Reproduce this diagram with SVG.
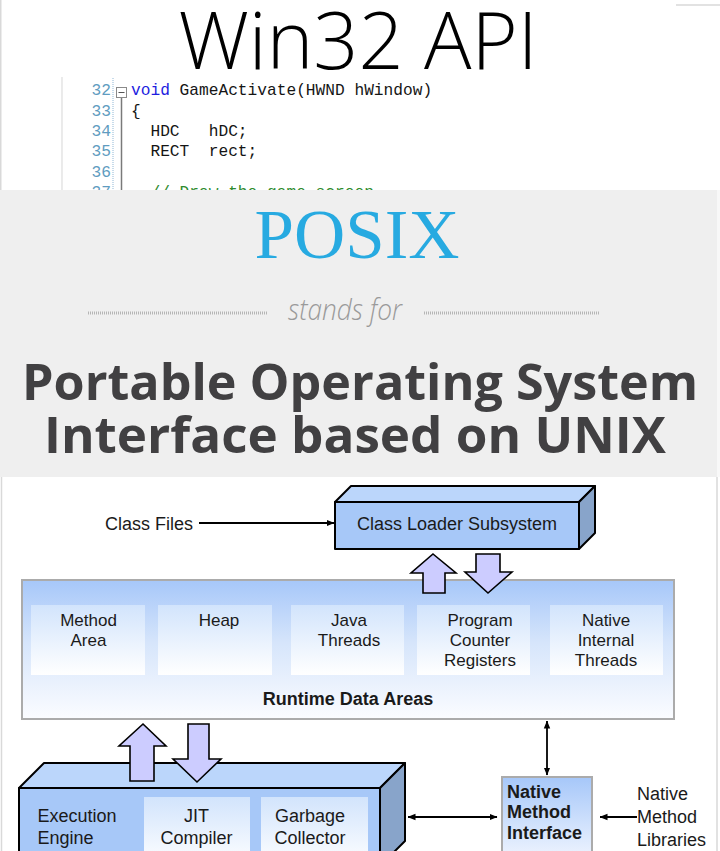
<svg xmlns="http://www.w3.org/2000/svg" width="720" height="851" viewBox="0 0 720 851">
<defs>
  <linearGradient id="rdaGrad" x1="0" y1="0" x2="0" y2="1">
    <stop offset="0" stop-color="#a6c7f9"/>
    <stop offset="0.45" stop-color="#d6e5fb"/>
    <stop offset="1" stop-color="#fbfcff"/>
  </linearGradient>
  <linearGradient id="innerGrad" x1="0" y1="0" x2="0" y2="1">
    <stop offset="0" stop-color="#d2e4fc"/>
    <stop offset="1" stop-color="#ffffff"/>
  </linearGradient>
  <linearGradient id="nmiGrad" x1="0" y1="0" x2="0" y2="1">
    <stop offset="0" stop-color="#a6c7f9"/>
    <stop offset="1" stop-color="#f6f9ff"/>
  </linearGradient>
  <marker id="arr" markerUnits="userSpaceOnUse" markerWidth="8" markerHeight="8" refX="7.5" refY="4" orient="auto-start-reverse" viewBox="0 0 8 8">
    <path d="M0,0.8 L8,4 L0,7.2 z" fill="#000"/>
  </marker>
  <clipPath id="codeClip"><rect x="0" y="0" width="720" height="190"/></clipPath>
</defs>
<style>
  .code{font-family:"Liberation Mono","Courier New",monospace;font-size:16.2px;fill:#151515;white-space:pre}
  .ln{fill:#5f9cc0}
  .kw{fill:#1d1de0}
  .cm{fill:#2e8b2e}
  .lbl{font-family:"Liberation Sans",Arial,sans-serif;font-size:18px;fill:#1a1a1a}
  .sm{font-size:17px}
  .b{font-weight:bold}
  .front{fill:#a7c8f8;stroke:#000;stroke-width:2;stroke-linejoin:round}
  .top{fill:#bbd6fb;stroke:#000;stroke-width:2;stroke-linejoin:round}
  .side{fill:#88a4ca;stroke:#000;stroke-width:2;stroke-linejoin:round}
  .inner{fill:url(#innerGrad)}
  .blk{fill:#ccccff;stroke:#000;stroke-width:1.6;stroke-linejoin:miter}
  .conn{stroke:#000;stroke-width:1.8;fill:none}
  .frame{stroke:#d9d9d9;stroke-width:1.5;fill:none}
</style>

<rect x="0" y="0" width="720" height="851" fill="#ffffff"/>

<!-- Win32 section -->
<g id="win32">
  <line class="frame" x1="0.75" y1="0" x2="0.75" y2="190"/>
  <line class="frame" x1="676" y1="5" x2="720" y2="5"/>
  <text x="358" y="69" text-anchor="middle" font-family="'Open Sans','DejaVu Sans',sans-serif" font-weight="350" font-size="79" fill="#000">Win32 API</text>
  <g id="code" clip-path="url(#codeClip)">
    <line x1="62" y1="77" x2="62" y2="190" stroke="#dddddd" stroke-width="1.2"/>
    <line x1="113" y1="78" x2="113" y2="190" stroke="#8fb7d6" stroke-width="1" stroke-dasharray="1 1"/>
    <rect x="116.5" y="87.5" width="10" height="10" fill="#fff" stroke="#8a8a8a" stroke-width="1"/>
    <line x1="118.5" y1="92.5" x2="124.5" y2="92.5" stroke="#555" stroke-width="1"/>
    <line x1="121.5" y1="98" x2="121.5" y2="190" stroke="#7a7a7a" stroke-width="1.5"/>
    <g class="code ln" text-anchor="end">
      <text x="111" y="95">32</text>
      <text x="111" y="115.5">33</text>
      <text x="111" y="136">34</text>
      <text x="111" y="156.3">35</text>
      <text x="111" y="176.7">36</text>
      <text x="111" y="197">37</text>
    </g>
    <g class="code">
      <text x="131" y="95" xml:space="preserve"><tspan class="kw">void</tspan> GameActivate(HWND hWindow)</text>
      <text x="131" y="115.5">{</text>
      <text x="131" y="136" xml:space="preserve">  HDC   hDC;</text>
      <text x="131" y="156.3" xml:space="preserve">  RECT  rect;</text>
      <text x="131" y="197" class="cm" xml:space="preserve">  // Draw the game screen</text>
    </g>
  </g>
</g>

<!-- POSIX section -->
<g id="posix">
  <rect x="0" y="190" width="717" height="287" fill="#efefef"/>
  <rect x="717" y="190" width="3" height="287" fill="#f8f8f8"/>
  <text x="357" y="258" text-anchor="middle" font-family="'Liberation Serif','Times New Roman',serif" font-size="69" fill="#27aae1" textLength="205" lengthAdjust="spacingAndGlyphs">POSIX</text>
  <line x1="88" y1="313" x2="268" y2="313" stroke="#b5b5b5" stroke-width="3" stroke-dasharray="1 1"/>
  <line x1="424" y1="313" x2="600" y2="313" stroke="#b5b5b5" stroke-width="3" stroke-dasharray="1 1"/>
  <text x="345" y="320" text-anchor="middle" font-family="'Open Sans',sans-serif" font-style="italic" font-weight="300" font-size="29" fill="#9a9a9a" textLength="114" lengthAdjust="spacingAndGlyphs">stands for</text>
  <text x="22" y="400" font-family="'Open Sans',sans-serif" font-weight="bold" font-size="51" fill="#414042" textLength="676" lengthAdjust="spacingAndGlyphs">Portable Operating System</text>
  <text x="44" y="453" font-family="'Open Sans',sans-serif" font-weight="bold" font-size="51" fill="#414042" textLength="622" lengthAdjust="spacingAndGlyphs">Interface based on UNIX</text>
</g>

<!-- JVM section frame -->
<line class="frame" x1="1.5" y1="477" x2="1.5" y2="851"/>
<line class="frame" x1="717" y1="477" x2="717" y2="851"/>

<g id="class-files">
  <text class="lbl" x="105" y="530">Class Files</text>
</g>

<g id="class-loader">
  <polygon class="top" points="335,502 351,486 595,486 579,502"/>
  <polygon class="side" points="579,502 595,486 595,533 579,549"/>
  <rect class="front" x="335" y="502" width="244" height="47"/>
  <text class="lbl" x="457" y="530" text-anchor="middle">Class Loader Subsystem</text>
</g>

<g id="runtime-data-areas">
  <rect x="22" y="580" width="652" height="139" fill="url(#rdaGrad)" stroke="#ababab" stroke-width="2"/>
  <g id="method-area">
    <rect class="inner" x="31" y="605" width="114" height="70"/>
    <text class="lbl sm" x="88.5" y="626" text-anchor="middle">Method</text>
    <text class="lbl sm" x="88.5" y="646" text-anchor="middle">Area</text>
  </g>
  <g id="heap">
    <rect class="inner" x="158" y="605" width="114" height="70"/>
    <text class="lbl sm" x="219" y="626" text-anchor="middle">Heap</text>
  </g>
  <g id="java-threads">
    <rect class="inner" x="291" y="605" width="113" height="70"/>
    <text class="lbl sm" x="349" y="626" text-anchor="middle">Java</text>
    <text class="lbl sm" x="349" y="646" text-anchor="middle">Threads</text>
  </g>
  <g id="pc-registers">
    <rect class="inner" x="417" y="605" width="113" height="70"/>
    <text class="lbl sm" x="480" y="626" text-anchor="middle">Program</text>
    <text class="lbl sm" x="480" y="646" text-anchor="middle">Counter</text>
    <text class="lbl sm" x="480" y="666" text-anchor="middle">Registers</text>
  </g>
  <g id="native-internal-threads">
    <rect class="inner" x="550" y="605" width="113" height="70"/>
    <text class="lbl sm" x="606" y="626" text-anchor="middle">Native</text>
    <text class="lbl sm" x="606" y="646" text-anchor="middle">Internal</text>
    <text class="lbl sm" x="606" y="666" text-anchor="middle">Threads</text>
  </g>
  <text class="lbl b" x="348" y="705" text-anchor="middle">Runtime Data Areas</text>
</g>

<g id="execution-engine">
  <polygon class="top" points="19,788 44,763 405,763 380,788"/>
  <polygon class="side" points="380,788 405,763 405,841 380,866"/>
  <rect class="front" x="19" y="788" width="361" height="80"/>
  <rect class="inner" x="144" y="797" width="106" height="70"/>
  <rect class="inner" x="261" y="797" width="107" height="70"/>
  <text class="lbl" x="37.5" y="822">Execution</text>
  <text class="lbl" x="37.5" y="844">Engine</text>
  <text class="lbl" x="196.5" y="822" text-anchor="middle">JIT</text>
  <text class="lbl" x="196.5" y="844" text-anchor="middle">Compiler</text>
  <text class="lbl" x="310" y="822" text-anchor="middle">Garbage</text>
  <text class="lbl" x="310" y="844" text-anchor="middle">Collector</text>
</g>

<g id="native-method-interface">
  <rect x="502" y="777" width="90" height="90" fill="url(#nmiGrad)" stroke="#ababab" stroke-width="2"/>
  <text class="lbl b" font-size="16.5" x="507" y="798">Native</text>
  <text class="lbl b" font-size="16.5" x="507" y="818">Method</text>
  <text class="lbl b" font-size="16.5" x="507" y="839">Interface</text>
</g>

<g id="native-method-libraries">
  <text class="lbl" x="637" y="800">Native</text>
  <text class="lbl" x="637" y="823">Method</text>
  <text class="lbl" x="637" y="846">Libraries</text>
</g>

<g id="connectors">
  <line class="conn" x1="199" y1="523" x2="334" y2="523" marker-end="url(#arr)"/>
  <polygon class="blk" points="433,554 456,573 445,573 445,593 423,593 423,573 411,573"/>
  <polygon class="blk" points="476,554 500,554 500,572 512,572 488,593 465,572 476,572"/>
  <polygon class="blk" points="143,724 166,746 154,746 154,781 130,781 130,746 119,746"/>
  <polygon class="blk" points="188,724 209,724 209,759 221,759 197,782 173,759 188,759"/>
  <line class="conn" x1="547" y1="721" x2="547" y2="775" marker-start="url(#arr)" marker-end="url(#arr)"/>
  <line class="conn" x1="408" y1="817" x2="497" y2="817" marker-start="url(#arr)" marker-end="url(#arr)"/>
  <line class="conn" x1="637" y1="817" x2="600" y2="817" marker-end="url(#arr)"/>
</g>
</svg>
